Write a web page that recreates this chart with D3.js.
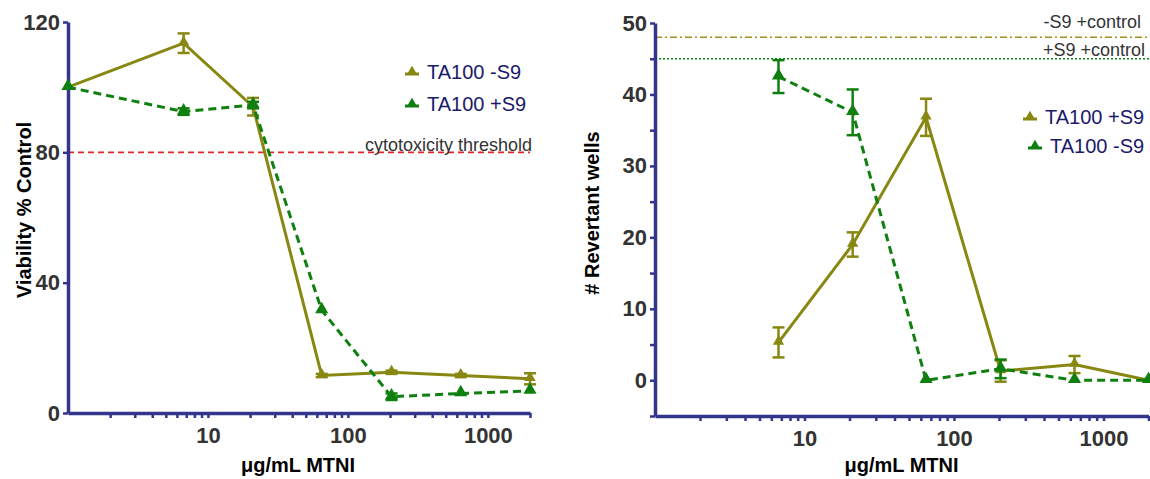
<!DOCTYPE html>
<html>
<head>
<meta charset="utf-8">
<script src="https://cdn.jsdelivr.net/npm/d3@7"></script>
<style>
  body { margin: 0; background: #fff; }
  svg { font-family: "Liberation Sans", Arial, sans-serif; }
</style>
</head>
<body>
<svg id="chart" width="1150" height="479"></svg>
<script>
// doses (ug/mL); the left panel also has the untreated control at 1
const leftDoses = [1, 6.7, 21, 65, 205, 640, 2000];
const rightDoses = [6.7, 21, 65, 205, 640, 2000];

// viability, % of control
const viabMinusS9 = [100, 113.5, 94, 11.5, 12.5, 11.5, 10.5];
const viabMinusS9Err = [0, 3, 2.7, 0.5, 0.5, 0.5, 1.7];
const viabPlusS9 = [100, 92.5, 94.5, 31.5, 5, 6, 6.8];
const viabPlusS9Err = [0, 1, 1, 0, 1, 0, 0];

// revertant wells
const revPlusS9 = [5.3, 19, 36.8, 1.3, 2.2, 0];
const revPlusS9Err = [2.1, 1.7, 2.6, 1.5, 1.2, 0];
const revMinusS9 = [42.5, 37.5, 0, 1.6, 0, 0];
const revMinusS9Err = [2.3, 3.2, 0, 1.3, 0, 0];

const leftYTicks = [0, 40, 80, 120];
const rightYTicks = [-5, 0, 5, 10, 15, 20, 25, 30, 35, 40, 45, 50];
const xLabelTicks = [10, 100, 1000];
const cytoThreshold = 80;
const minusS9Control = 48;
const plusS9Control = 45;

const OLIVE = "#878712";
const GREEN = "#0f800f";
const NAVY = "#33358c";
const LEGEND_TXT = "#1a1a6a";

const svg = d3.select("#chart");

// minor ticks for a log axis 1..2000
var logTicks = [];
[1, 10, 100, 1000].forEach(p => {
  for (var m = 1; m < 10; m++) if (p * m > 1 && p * m <= 2000) logTicks.push(p * m);
});

function drawPanel(cfg) {
  var x = d3.scaleLog().domain([1, 2000]).range([cfg.x0, cfg.x1]);
  var y = d3.scaleLinear().domain(cfg.yDomain).range([cfg.yBottom, cfg.yTop]);
  var g = svg.append("g");

  // reference lines
  cfg.refLines.forEach(r => {
    g.append("line")
      .attr("x1", cfg.x0).attr("x2", r.x2 || cfg.x1)
      .attr("y1", y(r.value)).attr("y2", y(r.value))
      .attr("stroke", r.color).attr("stroke-width", 1.6)
      .attr("stroke-dasharray", r.dash);
    g.append("text")
      .attr("x", r.labelX).attr("y", r.labelY != null ? r.labelY : y(r.value) - 2)
      .attr("text-anchor", "end")
      .attr("font-size", 18).attr("fill", "#333")
      .text(r.label);
  });

  // axes
  var xAxis = d3.axisBottom(x)
    .tickValues(logTicks)
    .tickSize(5).tickSizeOuter(0).tickPadding(9)
    .tickFormat(d => xLabelTicks.includes(d) ? d3.format("d")(d) : "");
  var yAxis = d3.axisLeft(y)
    .tickValues(cfg.yTicks)
    .tickSize(5).tickSizeOuter(0).tickPadding(3)
    .tickFormat(d => cfg.yLabels.includes(d) ? d : "");

  [g.append("g").attr("transform", `translate(0,${cfg.yBottom})`).call(xAxis),
   g.append("g").attr("transform", `translate(${cfg.x0},0)`).call(yAxis)]
    .forEach(a => {
      a.select(".domain").attr("stroke", NAVY).attr("stroke-width", 3.5);
      a.selectAll(".tick line").attr("stroke", NAVY).attr("stroke-width", 2.5);
      a.selectAll(".tick text")
        .attr("font-size", 22).attr("font-weight", "bold")
        .attr("fill", "#333").attr("font-family", "Liberation Sans, Arial, sans-serif");
    });

  // series
  cfg.series.forEach(s => {
    var pts = cfg.doses.map((d, i) => ({ x: d, y: s.values[i], e: s.err[i] }));
    var line = d3.line().x(d => x(d.x)).y(d => y(d.y));
    g.append("path").datum(pts)
      .attr("fill", "none").attr("stroke", s.color).attr("stroke-width", 3)
      .attr("stroke-dasharray", s.dash || null)
      .attr("d", line);

    var eb = g.append("g").attr("stroke", s.color).attr("stroke-width", 2.5);
    pts.filter(d => d.e > 0).forEach(d => {
      var cx = x(d.x), t = y(d.y + d.e), b = y(d.y - d.e);
      eb.append("line").attr("x1", cx).attr("x2", cx).attr("y1", t).attr("y2", b);
      eb.append("line").attr("x1", cx - 6).attr("x2", cx + 6).attr("y1", t).attr("y2", t);
      eb.append("line").attr("x1", cx - 6).attr("x2", cx + 6).attr("y1", b).attr("y2", b);
    });

    g.selectAll(null).data(pts).join("path")
      .attr("transform", d => `translate(${x(d.x)},${y(d.y) - 1})`)
      .attr("d", d3.symbol(d3.symbolTriangle, s.size)())
      .attr("fill", s.color);
  });

  // legend
  cfg.legend.forEach(l => {
    var lg = g.append("g").attr("transform", `translate(${l.x},${l.y})`);
    lg.append("line").attr("x1", -7).attr("x2", 7).attr("y1", 2).attr("y2", 2)
      .attr("stroke", l.color).attr("stroke-width", 3);
    lg.append("path").attr("d", d3.symbol(d3.symbolTriangle, 50)()).attr("fill", l.color);
    lg.append("text").attr("x", 15).attr("y", 7)
      .attr("font-size", 20).attr("fill", LEGEND_TXT).text(l.label);
  });

  // axis titles
  g.append("text")
    .attr("x", (cfg.x0 + cfg.x1Title) / 2).attr("y", 472)
    .attr("text-anchor", "middle").attr("font-size", 20).attr("font-weight", "bold")
    .text("\u03bcg/mL MTNI");
  g.append("text")
    .attr("transform", `translate(${cfg.yTitleX},${cfg.yTitleY}) rotate(-90)`)
    .attr("text-anchor", "middle").attr("font-size", 20).attr("font-weight", "bold")
    .text(cfg.yTitle);
}

drawPanel({
  x0: 68, x1: 530, x1Title: 528,
  yDomain: [0, 120], yBottom: 413, yTop: 22,
  yTicks: leftYTicks, yLabels: leftYTicks,
  doses: leftDoses,
  yTitle: "Viability % Control", yTitleX: 31, yTitleY: 210,
  refLines: [
    { value: cytoThreshold, color: "#e3242b", dash: "6,4", label: "cytotoxicity threshold", labelX: 532, labelY: 151 }
  ],
  series: [
    { values: viabMinusS9, err: viabMinusS9Err, color: OLIVE, size: 55 },
    { values: viabPlusS9, err: viabPlusS9Err, color: GREEN, size: 75, dash: "8,5" }
  ],
  legend: [
    { x: 412, y: 72, color: OLIVE, label: "TA100 -S9" },
    { x: 412, y: 104, color: GREEN, label: "TA100 +S9" }
  ]
});

drawPanel({
  x0: 655, x1: 1148.5, x1Title: 1148,
  yDomain: [-5, 50], yBottom: 416, yTop: 23,
  yTicks: rightYTicks, yLabels: [0, 10, 20, 30, 40, 50],
  doses: rightDoses,
  yTitle: "# Revertant wells", yTitleX: 599, yTitleY: 213,
  refLines: [
    { value: minusS9Control, color: "#a0901e", dash: "7,3,2,3", label: "-S9 +control", labelX: 1141, labelY: 28, x2: 1150 },
    { value: plusS9Control, color: GREEN, dash: "2,2", label: "+S9 +control", labelX: 1145, labelY: 56, x2: 1150 }
  ],
  series: [
    { values: revPlusS9, err: revPlusS9Err, color: OLIVE, size: 55 },
    { values: revMinusS9, err: revMinusS9Err, color: GREEN, size: 75, dash: "8,5" }
  ],
  legend: [
    { x: 1030, y: 117, color: OLIVE, label: "TA100 +S9" },
    { x: 1035, y: 146, color: GREEN, label: "TA100 -S9" }
  ]
});
</script>
</body>
</html>
